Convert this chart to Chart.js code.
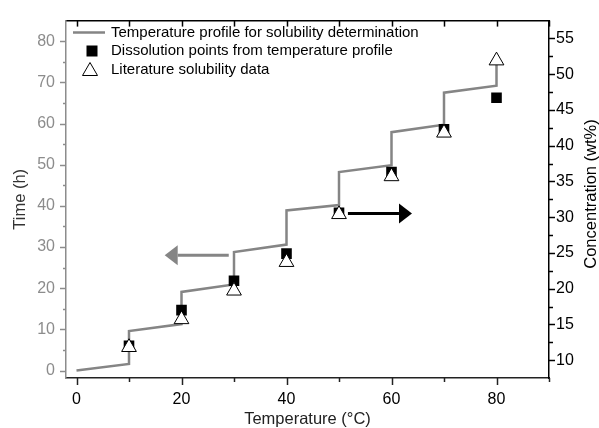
<!DOCTYPE html>
<html>
<head>
<meta charset="utf-8">
<script src="https://cdn.jsdelivr.net/npm/chart.js@4/dist/chart.umd.min.js"></script>
<style>
  body { margin: 0; background: #fff; }
  #wrap { width: 599px; height: 428px; }
</style>
</head>
<body>
<div id="wrap"><canvas id="chart" width="599" height="428"></canvas></div>
<script>
// temperature profile (temperature in C vs time in h)
const profileTemp = [0, 10, 10, 20, 20, 30, 30, 40, 40, 50, 50, 60, 60, 70, 70, 80, 80];
const profileTime = [0, 1.6, 9.6, 11.3, 19.1, 20.9, 28.8, 30.6, 38.9, 40.2, 48.2, 49.9, 57.9, 59.7, 67.5, 69.2, 74.2];

// solubility points (wt%)
const sampleTemp = [10, 20, 30, 40, 50, 60, 70, 80];
const dissolutionConc = [12.0, 17.0, 21.1, 24.9, 30.6, 36.3, 42.3, 46.7];
const literatureConc = [11.8, 15.7, 19.7, 23.7, 30.4, 35.7, 41.8, 51.9];

// tick values
const xTicks = [0, 10, 20, 30, 40, 50, 60, 70, 80, 90];
const timeTicks = [0, 5, 10, 15, 20, 25, 30, 35, 40, 45, 50, 55, 60, 65, 70, 75, 80];
const concTicks = [10, 12.5, 15, 17.5, 20, 22.5, 25, 27.5, 30, 32.5, 35, 37.5, 40, 42.5, 45, 47.5, 50, 52.5, 55];

// arrows, in data units: [x, y]
const timeArrow = { from: [29, 28], to: [16.8, 28] };   // points to left axis
const concArrow = { from: [51.7, 30.5], to: [63.9, 30.5] }; // points to right axis

const legendLabels = [
    'Temperature profile for solubility determination',
    'Dissolution points from temperature profile',
    'Literature solubility data'
];

const FONT = "'Liberation Sans', Arial, sans-serif";

function setTicks(values) {
    return scale => { scale.ticks = values.map(v => ({ value: v })); };
}

function arrowHead(ctx, x1, y1, x2, y2, color, headLen, headHalf, width) {
    const dir = Math.sign(x2 - x1);
    ctx.save();
    ctx.strokeStyle = color;
    ctx.fillStyle = color;
    ctx.lineWidth = width;
    ctx.beginPath();
    ctx.moveTo(x1, y1);
    ctx.lineTo(x2 - dir * headLen, y2);
    ctx.stroke();
    ctx.beginPath();
    ctx.moveTo(x2, y2);
    ctx.lineTo(x2 - dir * headLen, y2 - headHalf);
    ctx.lineTo(x2 - dir * headLen, y2 + headHalf);
    ctx.closePath();
    ctx.fill();
    ctx.restore();
}

// tick marks, arrows, legend and right axis title
const decorations = {
    id: 'decorations',
    afterDraw(chart) {
        const ctx = chart.ctx;
        const { x, x2, y, y2 } = chart.scales;
        const area = chart.chartArea;

        ctx.save();
        ctx.lineWidth = 1.5;
        // bottom ticks, outward
        ctx.strokeStyle = '#222';
        xTicks.forEach(v => {
            const px = Math.round(x.getPixelForValue(v)) + 0.5;
            const len = v % 20 === 0 ? 7 : 4;
            ctx.beginPath(); ctx.moveTo(px, area.bottom); ctx.lineTo(px, area.bottom + len); ctx.stroke();
        });
        // top ticks, inward
        ctx.strokeStyle = '#000';
        xTicks.forEach(v => {
            const px = Math.round(x2.getPixelForValue(v)) + 0.5;
            ctx.beginPath(); ctx.moveTo(px, area.top); ctx.lineTo(px, area.top + 6); ctx.stroke();
        });
        // left ticks, gray
        ctx.strokeStyle = '#8c8c8c';
        timeTicks.forEach(v => {
            const py = Math.round(y.getPixelForValue(v)) + 0.5;
            const len = v % 10 === 0 ? 6 : 3;
            ctx.beginPath(); ctx.moveTo(area.left, py); ctx.lineTo(area.left - len, py); ctx.stroke();
        });
        // right ticks
        ctx.strokeStyle = '#000';
        concTicks.forEach(v => {
            const py = Math.round(y2.getPixelForValue(v)) + 0.5;
            const len = v % 5 === 0 ? 6 : 4;
            ctx.beginPath(); ctx.moveTo(area.right, py); ctx.lineTo(area.right + len, py); ctx.stroke();
        });
        ctx.restore();

        // arrows
        arrowHead(ctx,
            x.getPixelForValue(timeArrow.from[0]), y.getPixelForValue(timeArrow.from[1]),
            x.getPixelForValue(timeArrow.to[0]), y.getPixelForValue(timeArrow.to[1]),
            '#858585', 13, 10, 3);
        arrowHead(ctx,
            x.getPixelForValue(concArrow.from[0]), y2.getPixelForValue(concArrow.from[1]),
            x.getPixelForValue(concArrow.to[0]), y2.getPixelForValue(concArrow.to[1]),
            '#000', 13, 10, 3);

        // legend
        ctx.save();
        ctx.font = '15px ' + FONT;
        ctx.fillStyle = '#000';
        ctx.textBaseline = 'middle';
        const rows = [32.5, 51, 69.5];
        const textX = 111;
        // line sample
        ctx.strokeStyle = '#858585';
        ctx.lineWidth = 2.5;
        ctx.beginPath(); ctx.moveTo(73, rows[0]); ctx.lineTo(105, rows[0]); ctx.stroke();
        // square sample
        ctx.fillRect(86.5, rows[1] - 5.5, 11, 11);
        // triangle sample
        ctx.strokeStyle = '#000';
        ctx.lineWidth = 1;
        ctx.beginPath();
        ctx.moveTo(90, rows[2] - 7);
        ctx.lineTo(97.5, rows[2] + 6);
        ctx.lineTo(82.5, rows[2] + 6);
        ctx.closePath();
        ctx.fillStyle = '#fff';
        ctx.fill();
        ctx.stroke();
        ctx.fillStyle = '#000';
        legendLabels.forEach((t, i) => ctx.fillText(t, textX, rows[i]));
        ctx.restore();

        // right axis title, reading bottom to top
        ctx.save();
        ctx.translate(591, 194);
        ctx.rotate(-Math.PI / 2);
        ctx.font = '16.5px ' + FONT;
        ctx.fillStyle = '#000';
        ctx.textAlign = 'center';
        ctx.textBaseline = 'middle';
        ctx.fillText('Concentration (wt%)', 0, 0);
        ctx.restore();
    }
};

new Chart(document.getElementById('chart').getContext('2d'), {
    type: 'scatter',
    data: {
        datasets: [
            {
                label: legendLabels[0],
                data: profileTemp.map((t, i) => ({ x: t, y: profileTime[i] })),
                yAxisID: 'y',
                showLine: true,
                borderColor: '#858585',
                borderWidth: 2.5,
                pointRadius: 0,
                order: 2
            },
            {
                label: legendLabels[1],
                data: sampleTemp.map((t, i) => ({ x: t, y: dissolutionConc[i] })),
                yAxisID: 'y2',
                pointStyle: 'rect',
                pointRadius: 7.5,
                backgroundColor: '#000',
                borderColor: '#000',
                borderWidth: 0,
                order: 1
            },
            {
                label: legendLabels[2],
                data: sampleTemp.map((t, i) => ({ x: t, y: literatureConc[i] })),
                yAxisID: 'y2',
                pointStyle: 'triangle',
                pointRadius: 8.5,
                backgroundColor: '#fff',
                borderColor: '#000',
                borderWidth: 1,
                order: 0
            }
        ]
    },
    options: {
        responsive: false,
        animation: false,
        layout: { padding: 0 },
        plugins: { legend: { display: false }, tooltip: { enabled: false } },
        scales: {
            x: {
                type: 'linear', position: 'bottom', min: -2, max: 90,
                afterBuildTicks: setTicks(xTicks),
                afterFit: s => { s.height = 50; },
                grid: { display: false, drawTicks: false },
                border: { display: true, color: '#222', width: 1.5 },
                ticks: {
                    autoSkip: false, maxRotation: 0, padding: 12,
                    color: '#000', font: { family: FONT, size: 16 },
                    callback: v => (v % 20 === 0 && v <= 80 ? v : '')
                },
                title: {
                    display: true, text: 'Temperature (\u00B0C)', color: '#222',
                    font: { family: FONT, size: 16.5 }, padding: { top: 0, bottom: -1 }
                }
            },
            x2: {
                type: 'linear', position: 'top', min: -2, max: 90,
                afterBuildTicks: setTicks(xTicks),
                afterFit: s => { s.height = 14; },
                grid: { display: false, drawTicks: false },
                border: { display: true, color: '#000', width: 1.5 },
                ticks: { display: false }
            },
            y: {
                type: 'linear', position: 'left', min: -1.8, max: 85,
                afterBuildTicks: setTicks(timeTicks),
                afterFit: s => { s.width = 66; },
                grid: { display: false, drawTicks: false },
                border: { display: true, color: '#8c8c8c', width: 1.5 },
                ticks: {
                    autoSkip: false, padding: 11,
                    color: '#8c8c8c', font: { family: FONT, size: 16 },
                    callback: v => (v % 10 === 0 ? v : '')
                },
                title: {
                    display: true, text: 'Time (h)', color: '#333',
                    font: { family: FONT, size: 16.5 }, padding: { top: 11, bottom: 0 }
                }
            },
            y2: {
                type: 'linear', position: 'right', min: 7.5, max: 57.5,
                afterBuildTicks: setTicks(concTicks),
                afterFit: s => { s.width = 50; },
                grid: { display: false, drawTicks: false },
                border: { display: true, color: '#000', width: 1.5 },
                ticks: {
                    autoSkip: false, padding: 7,
                    color: '#000', font: { family: FONT, size: 16 },
                    callback: v => (v % 5 === 0 ? v : '')
                }
            }
        }
    },
    plugins: [decorations]
});
</script>
</body>
</html>
